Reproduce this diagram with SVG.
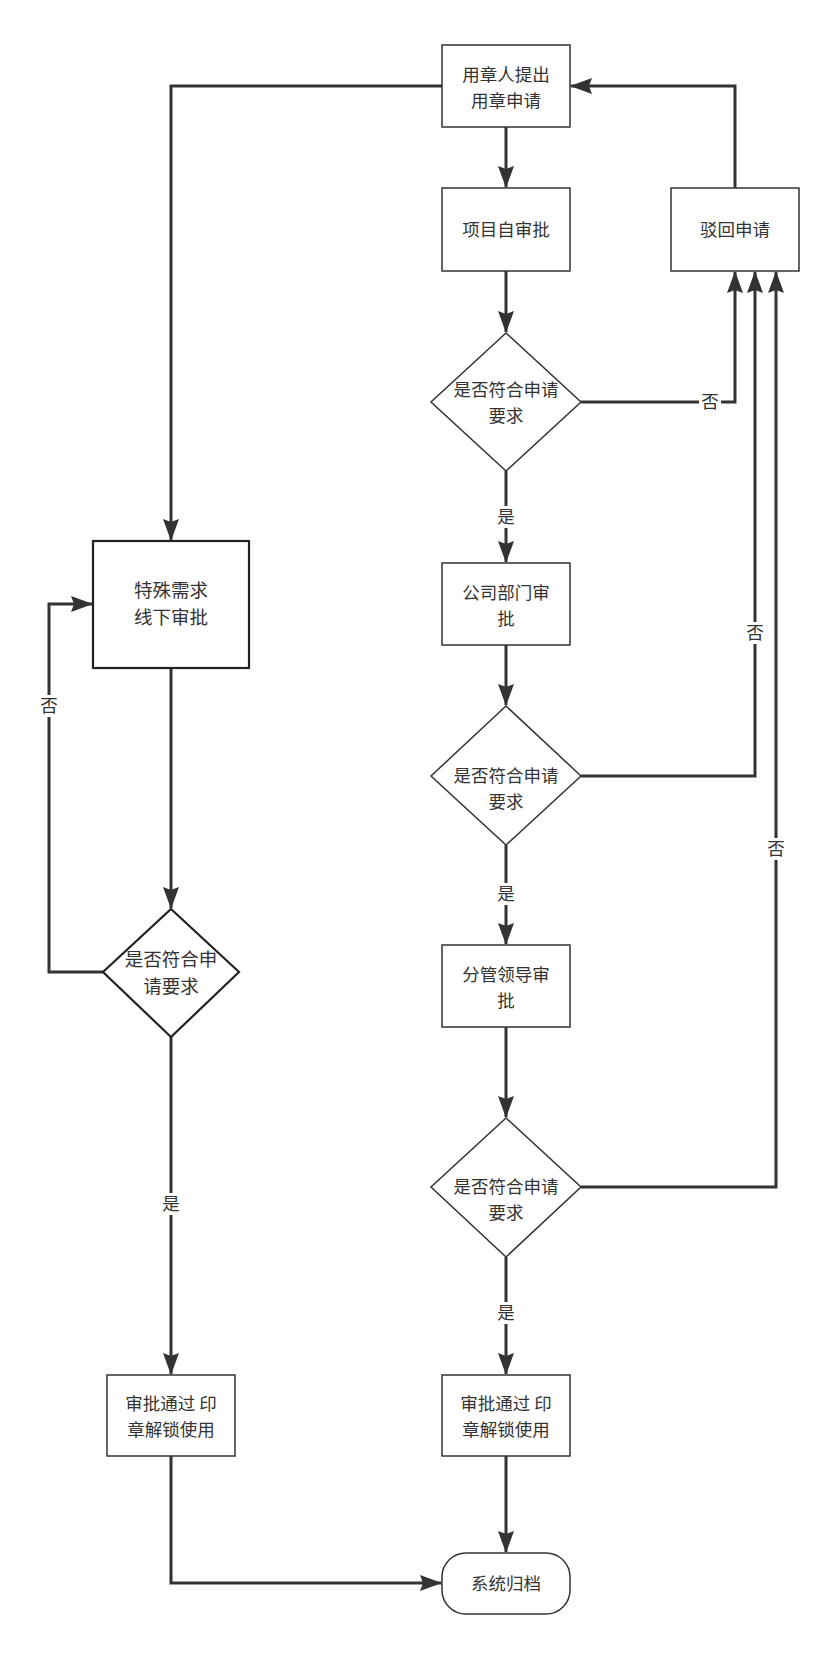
<svg xmlns="http://www.w3.org/2000/svg" width="836" height="1659" viewBox="0 0 836 1659">
<style>
.n{fill:#fff;stroke:#333;stroke-width:1.5}
.nt{fill:#fff;stroke:#222;stroke-width:2.2}
.t{font-family:"Noto Sans CJK SC","Liberation Sans",sans-serif;font-size:17.5px;fill:#333;text-anchor:middle}
.c{fill:none;stroke:#333;stroke-width:3}
.lb{fill:#fff}
</style>
<defs>
<marker id="a" viewBox="0 0 22 16" refX="21" refY="8" markerWidth="22" markerHeight="16" markerUnits="userSpaceOnUse" orient="auto">
<path d="M0,0 L22,8 L0,16 L3,8 Z" fill="#333"/>
</marker>
</defs>
<rect width="836" height="1659" fill="#fff"/>
<g id="connectors">
<path class="c" d="M506,127 V187" marker-end="url(#a)"/>
<path class="c" d="M506,271 V332" marker-end="url(#a)"/>
<path class="c" d="M506,471 V562" marker-end="url(#a)"/>
<path class="c" d="M506,645 V705" marker-end="url(#a)"/>
<path class="c" d="M506,845 V944" marker-end="url(#a)"/>
<path class="c" d="M506,1027 V1117" marker-end="url(#a)"/>
<path class="c" d="M506,1257 V1374" marker-end="url(#a)"/>
<path class="c" d="M506,1456 V1552" marker-end="url(#a)"/>
<path class="c" d="M581,402 H735 V272" marker-end="url(#a)"/>
<path class="c" d="M581,776 H755 V272" marker-end="url(#a)"/>
<path class="c" d="M581,1187 H776 V272" marker-end="url(#a)"/>
<path class="c" d="M735,188 V86 H571" marker-end="url(#a)"/>
<path class="c" d="M442,86 H171 V540" marker-end="url(#a)"/>
<path class="c" d="M171,668 V908" marker-end="url(#a)"/>
<path class="c" d="M103,972 H49 V604 H92" marker-end="url(#a)"/>
<path class="c" d="M171,1037 V1374" marker-end="url(#a)"/>
<path class="c" d="M171,1456 V1583 H441" marker-end="url(#a)"/>
<rect class="lb" x="699" y="391" width="22" height="22"/>
<text class="t" x="710" y="408">否</text>
<rect class="lb" x="744" y="622" width="22" height="22"/>
<text class="t" x="755" y="639">否</text>
<rect class="lb" x="765" y="838" width="22" height="22"/>
<text class="t" x="776" y="855">否</text>
<rect class="lb" x="38" y="695" width="22" height="22"/>
<text class="t" x="49" y="712">否</text>
<rect class="lb" x="495" y="506" width="22" height="22"/>
<text class="t" x="506" y="523">是</text>
<rect class="lb" x="495" y="883" width="22" height="22"/>
<text class="t" x="506" y="900">是</text>
<rect class="lb" x="495" y="1302" width="22" height="22"/>
<text class="t" x="506" y="1319">是</text>
<rect class="lb" x="160" y="1193" width="22" height="22"/>
<text class="t" x="171" y="1210">是</text>
</g>
<g id="start">
<rect class="n" x="442" y="45" width="128" height="82"/>
<text class="t" x="506" y="81">用章人提出</text>
<text class="t" x="506" y="107">用章申请</text>
</g>
<g id="self">
<rect class="n" x="442" y="188" width="128" height="83"/>
<text class="t" x="506" y="236">项目自审批</text>
</g>
<g id="reject">
<rect class="n" x="671" y="188" width="128" height="83"/>
<text class="t" x="735" y="236">驳回申请</text>
</g>
<g id="d1">
<path class="n" d="M506,333 L581,402 L506,471 L431,402 Z"/>
<text class="t" x="506" y="396">是否符合申请</text>
<text class="t" x="506" y="422">要求</text>
</g>
<g id="dept">
<rect class="n" x="442" y="563" width="128" height="82"/>
<text class="t" x="506" y="599">公司部门审</text>
<text class="t" x="506" y="625">批</text>
</g>
<g id="d2">
<path class="n" d="M506,706 L581,776 L506,845 L431,776 Z"/>
<text class="t" x="506" y="782">是否符合申请</text>
<text class="t" x="506" y="808">要求</text>
</g>
<g id="leader">
<rect class="n" x="442" y="945" width="128" height="82"/>
<text class="t" x="506" y="981">分管领导审</text>
<text class="t" x="506" y="1007">批</text>
</g>
<g id="d3">
<path class="n" d="M506,1118 L581,1187 L506,1257 L431,1187 Z"/>
<text class="t" x="506" y="1193">是否符合申请</text>
<text class="t" x="506" y="1219">要求</text>
</g>
<g id="pass-right">
<rect class="n" x="442" y="1375" width="128" height="81"/>
<text class="t" x="506" y="1410">审批通过 印</text>
<text class="t" x="506" y="1436">章解锁使用</text>
</g>
<g id="archive">
<rect class="n" x="442" y="1553" width="128" height="61" rx="24" ry="24"/>
<text class="t" x="506" y="1590">系统归档</text>
</g>
<g id="special">
<rect class="nt" x="93" y="541" width="156" height="127"/>
<text class="t" x="171" y="597" style="font-size:18.5px">特殊需求</text>
<text class="t" x="171" y="624" style="font-size:18.5px">线下审批</text>
</g>
<g id="d-left">
<path class="nt" d="M171,909 L239,972 L171,1037 L103,972 Z"/>
<text class="t" x="171" y="966" style="font-size:18.5px">是否符合申</text>
<text class="t" x="171" y="993" style="font-size:18.5px">请要求</text>
</g>
<g id="pass-left">
<rect class="n" x="107" y="1375" width="128" height="81"/>
<text class="t" x="171" y="1410">审批通过 印</text>
<text class="t" x="171" y="1436">章解锁使用</text>
</g>
</svg>
